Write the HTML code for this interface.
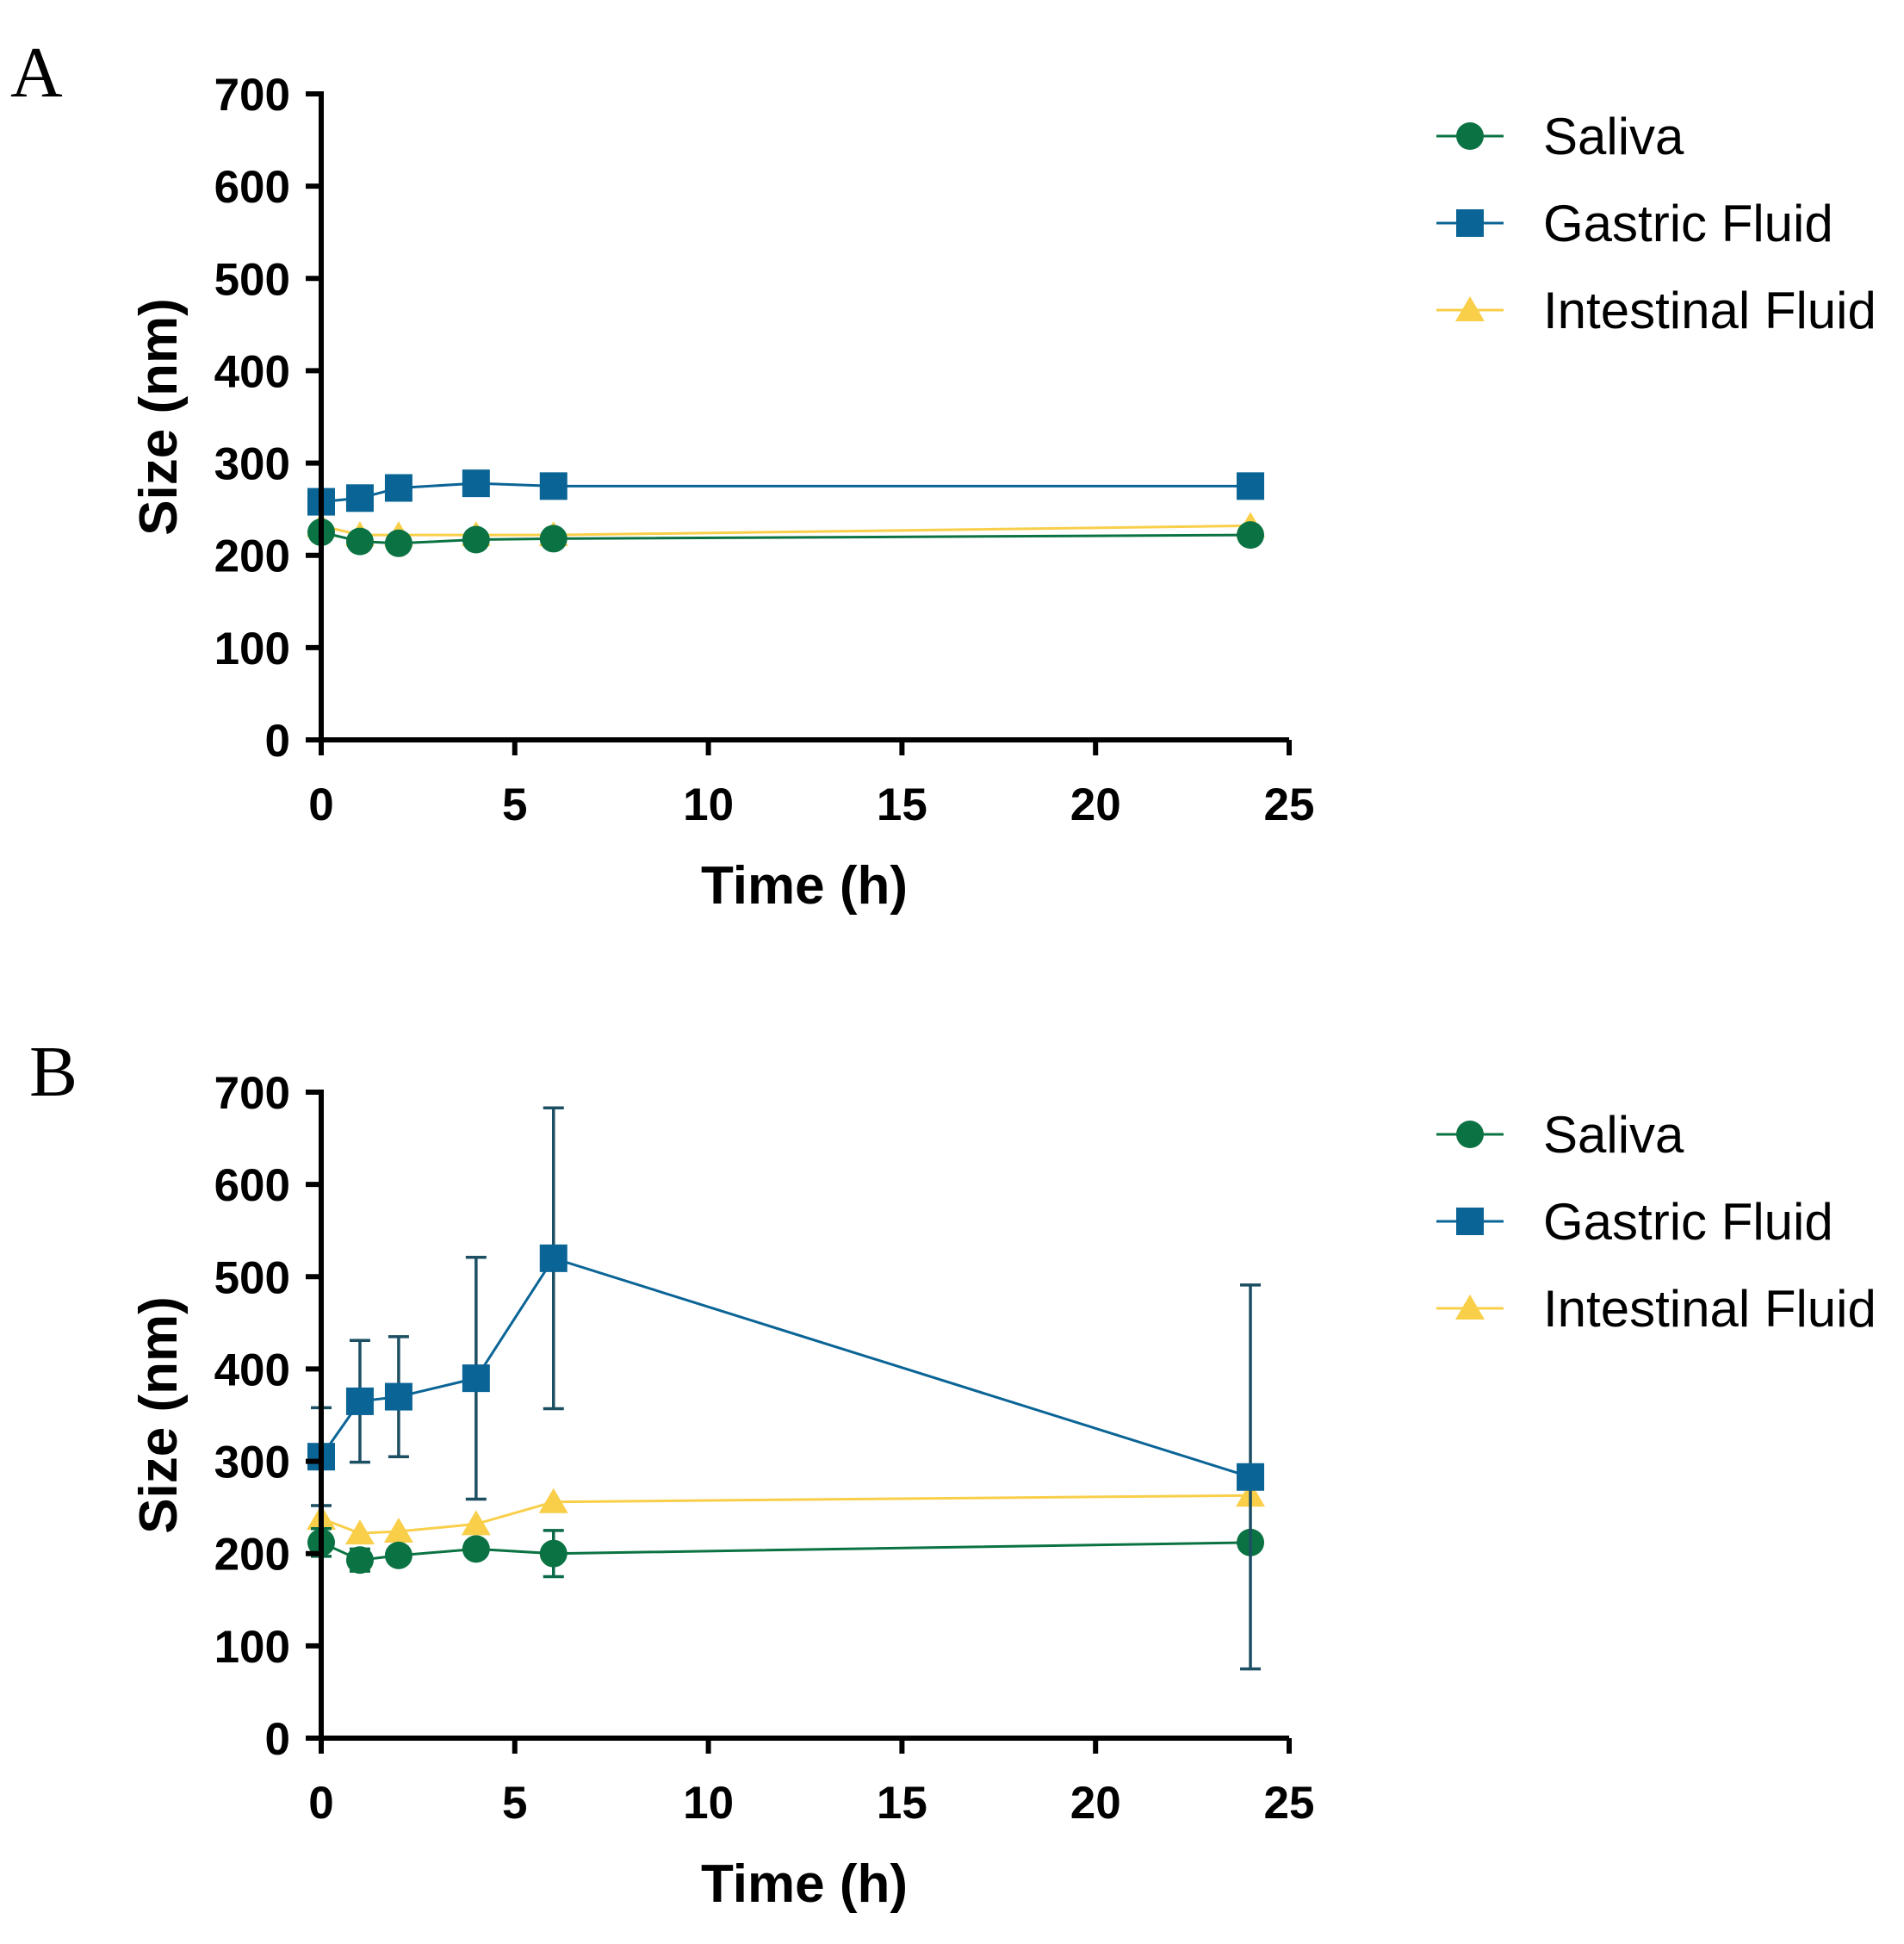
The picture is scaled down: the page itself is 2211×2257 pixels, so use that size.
<!DOCTYPE html>
<html><head><meta charset="utf-8"><style>
html,body{margin:0;padding:0;background:#fff}
svg{display:block}
text{font-family:"Liberation Sans",Arial,sans-serif}
</style></head><body>
<svg id="fig" width="2211" height="2257" viewBox="0 0 2211 2257" xmlns="http://www.w3.org/2000/svg">
<text x="12" y="112" font-size="84" style="font-family:'Liberation Serif',serif">A</text>
<text x="34" y="1272" font-size="84" style="font-family:'Liberation Serif',serif">B</text>
</svg>
<script>
const hours = [0, 1, 2, 4, 6, 24];
const xTicks = [0, 5, 10, 15, 20, 25];
const yTicks = [0, 100, 200, 300, 400, 500, 600, 700];
const seriesNames = ["Saliva", "Gastric Fluid", "Intestinal Fluid"];
const aSaliva = [225, 215, 213, 217, 218, 222];
const aGastric = [258, 262, 273, 278, 275, 275];
const aIntestinal = [232, 222, 222, 222, 222, 232];
const bSaliva = [212, 193, 198, 205, 200, 212];
const bSalivaErr = [15, 12, 6, 6, 25, 0];
const bGastric = [305, 365, 370, 390, 520, 283];
const bGastricErr = [53, 66, 65, 131, 163, 208];
const bIntestinal = [238, 222, 224, 232, 256, 263];

const NS = "http://www.w3.org/2000/svg";
const svg = document.getElementById("fig");
const COL = {Saliva:"#0b7343", "Gastric Fluid":"#0a6496", "Intestinal Fluid":"#f9cf4a"};
function mk(tag, attrs, parent){const e=document.createElementNS(NS,tag);for(const k in attrs)e.setAttribute(k,attrs[k]);(parent||svg).appendChild(e);return e;}

function marker(g, kind, cx, cy, col){
  if(kind==="Saliva") return mk("circle",{cx:cx,cy:cy,r:16,fill:col},g);
  if(kind==="Gastric Fluid") return mk("rect",{x:cx-16,y:cy-16,width:32,height:32,fill:col},g);
  return mk("polygon",{points:`${cx},${cy-16} ${cx+17},${cy+13} ${cx-17},${cy+13}`,fill:col},g);
}

function panel(id, top, sets){
  const x0=373, x1=1497, y0=top+750, y1=top;
  const X=v=>x0+(v-0)/25*(x1-x0);
  const Y=v=>y0-(v/700)*(y0-y1);
  const g=mk("g",{});
  
  
  const order=["Intestinal Fluid","Saliva","Gastric Fluid"];
  order.forEach(name=>{
    const s=sets[name]; const col=COL[name];
    const sg=mk("g",{},g);
    
    
    if(s.err){
      s.vals.forEach((v,i)=>{
        const e=s.err[i]; if(!e) return;
        const cx=X(hours[i]);
        const ec = name==="Saliva" ? "#0b6b48" : "#1d4f63";
        const eb=mk("path",{d:`M${cx},${Y(v-e)}V${Y(v+e)}M${cx-12},${Y(v-e)}H${cx+12}M${cx-12},${Y(v+e)}H${cx+12}`,stroke:ec,"stroke-width":3.5,fill:"none"},sg);
        
        
      });
    }
    const pl=mk("polyline",{points:s.vals.map((v,i)=>X(hours[i])+","+Y(v)).join(" "),stroke:col,"stroke-width":3,fill:"none"},sg);
    
    
    s.vals.forEach((v,i)=>{
      const m=marker(sg,name,X(hours[i]),Y(v),col);
      
      
    });
  });
  const ax=mk("path",{d:`M${x0},${y1-3}V${y0}H${x1}`,stroke:"#000","stroke-width":6,fill:"none"},g);
  
  
  yTicks.forEach(t=>{
    mk("line",{x1:x0-18,x2:x0,y1:Y(t),y2:Y(t),stroke:"#000","stroke-width":6},g);
    const tx=mk("text",{x:x0-36,y:Y(t)+19,"text-anchor":"end","font-size":53,"font-weight":"bold"},g);
    tx.textContent=t;
    
    
  });
  xTicks.forEach(t=>{
    mk("line",{x1:X(t),x2:X(t),y1:y0,y2:y0+18,stroke:"#000","stroke-width":6},g);
    const tx=mk("text",{x:X(t),y:y0+93,"text-anchor":"middle","font-size":53,"font-weight":"bold"},g);
    tx.textContent=t;
    
    
  });
  const xt=mk("text",{x:934,y:y0+190,"text-anchor":"middle","font-size":62,"font-weight":"bold"},g);
  xt.textContent="Time (h)";
  
  
  const cy=(y0+y1)/2;
  const yt=mk("text",{x:0,y:0,"text-anchor":"middle","font-size":62,"font-weight":"bold",transform:`translate(205,${cy}) rotate(-90)`},g);
  yt.textContent="Size (nm)";
  
  
  const lg=mk("g",{},g);
  
  
  seriesNames.forEach((n,i)=>{
    const ly=top+49+i*101;
    const eg=mk("g",{},lg);
    
    
    mk("line",{x1:1668,x2:1746,y1:ly,y2:ly,stroke:COL[n],"stroke-width":3},eg);
    marker(eg,n,1707,ly,COL[n]);
    const t=mk("text",{x:1792,y:ly+21,"font-size":60},eg);
    t.textContent=n;
  });
}
panel("panel-a",109,{"Saliva":{vals:aSaliva},"Gastric Fluid":{vals:aGastric},"Intestinal Fluid":{vals:aIntestinal}});
panel("panel-b",1268,{"Saliva":{vals:bSaliva,err:bSalivaErr},"Gastric Fluid":{vals:bGastric,err:bGastricErr},"Intestinal Fluid":{vals:bIntestinal}});
</script>
</body></html>
